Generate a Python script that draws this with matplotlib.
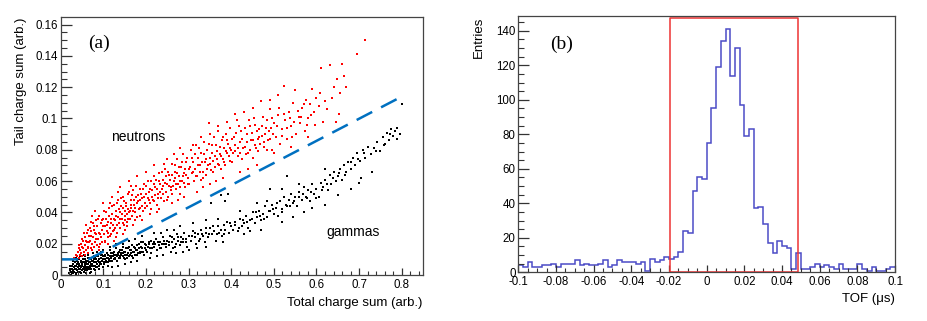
import numpy as np
import matplotlib.pyplot as plt
from matplotlib.ticker import MultipleLocator, FuncFormatter

plt.rcParams['font.family'] = ['Liberation Sans', 'DejaVu Sans']
plt.rcParams['axes.unicode_minus'] = False

# ---- (a) PSD scatter: points (tail vs total charge)
neutrons = [
    (0.032, 0.011), (0.035, 0.013), (0.038, 0.012), (0.040, 0.015), (0.042, 0.011), (0.044, 0.017),
    (0.045, 0.013), (0.047, 0.020), (0.048, 0.014), (0.050, 0.012), (0.051, 0.018), (0.053, 0.022),
    (0.054, 0.015), (0.056, 0.013), (0.057, 0.024), (0.058, 0.019), (0.060, 0.016), (0.061, 0.027),
    (0.062, 0.021), (0.064, 0.014), (0.065, 0.018), (0.066, 0.025), (0.068, 0.030), (0.069, 0.022),
    (0.070, 0.017), (0.072, 0.028), (0.073, 0.020), (0.075, 0.033), (0.076, 0.024), (0.078, 0.018),
    (0.079, 0.029), (0.080, 0.021), (0.082, 0.035), (0.083, 0.026), (0.085, 0.019), (0.086, 0.031),
    (0.088, 0.023), (0.090, 0.038), (0.091, 0.027), (0.092, 0.020), (0.094, 0.033), (0.095, 0.024),
    (0.097, 0.029), (0.098, 0.021), (0.100, 0.036),
    (0.043, 0.019), (0.046, 0.016), (0.049, 0.023), (0.052, 0.017), (0.055, 0.027), (0.059, 0.022),
    (0.063, 0.029), (0.063, 0.017), (0.067, 0.021), (0.071, 0.025), (0.071, 0.034), (0.074, 0.016),
    (0.077, 0.031), (0.081, 0.027), (0.084, 0.023), (0.087, 0.036), (0.089, 0.018), (0.093, 0.026),
    (0.096, 0.035), (0.099, 0.031), (0.060, 0.032), (0.080, 0.041), (0.090, 0.016), (0.074, 0.038),
    (0.102, 0.026), (0.104, 0.031), (0.105, 0.022), (0.107, 0.040), (0.108, 0.028), (0.110, 0.034),
    (0.112, 0.024), (0.113, 0.043), (0.115, 0.030), (0.117, 0.036), (0.118, 0.026), (0.120, 0.039),
    (0.122, 0.032), (0.123, 0.028), (0.125, 0.045), (0.127, 0.035), (0.128, 0.030), (0.130, 0.041),
    (0.132, 0.027), (0.134, 0.037), (0.135, 0.048), (0.137, 0.033), (0.139, 0.040), (0.140, 0.030),
    (0.142, 0.044), (0.144, 0.036), (0.146, 0.050), (0.148, 0.032), (0.150, 0.041), (0.152, 0.038),
    (0.154, 0.046), (0.156, 0.034), (0.158, 0.052), (0.160, 0.040), (0.162, 0.036), (0.164, 0.048),
    (0.166, 0.043), (0.168, 0.038), (0.170, 0.054), (0.172, 0.045), (0.175, 0.040), (0.177, 0.050),
    (0.180, 0.037), (0.182, 0.047), (0.185, 0.055), (0.187, 0.043), (0.190, 0.049), (0.192, 0.041),
    (0.195, 0.058), (0.197, 0.046), (0.200, 0.052),
    (0.101, 0.041), (0.103, 0.021), (0.106, 0.036), (0.109, 0.032), (0.111, 0.027), (0.114, 0.038),
    (0.116, 0.025), (0.119, 0.033), (0.121, 0.044), (0.124, 0.036), (0.126, 0.029), (0.129, 0.038),
    (0.131, 0.046), (0.133, 0.032), (0.136, 0.042), (0.138, 0.036), (0.141, 0.049), (0.143, 0.039),
    (0.145, 0.033), (0.147, 0.043), (0.149, 0.047), (0.151, 0.035), (0.153, 0.044), (0.155, 0.039),
    (0.157, 0.042), (0.159, 0.036), (0.161, 0.053), (0.163, 0.041), (0.165, 0.045), (0.167, 0.051),
    (0.169, 0.041), (0.171, 0.048), (0.174, 0.043), (0.176, 0.057), (0.178, 0.046), (0.181, 0.051),
    (0.183, 0.042), (0.186, 0.048), (0.188, 0.052), (0.191, 0.044), (0.193, 0.055), (0.196, 0.050),
    (0.198, 0.043),
    (0.100, 0.046), (0.120, 0.050), (0.140, 0.056), (0.160, 0.060), (0.180, 0.063), (0.110, 0.020),
    (0.130, 0.024), (0.150, 0.029), (0.170, 0.032), (0.190, 0.035), (0.115, 0.046), (0.135, 0.053),
    (0.155, 0.031), (0.175, 0.035), (0.145, 0.026), (0.165, 0.057), (0.185, 0.038), (0.125, 0.022),
    (0.202, 0.044), (0.205, 0.060), (0.207, 0.048), (0.210, 0.055), (0.212, 0.042), (0.215, 0.050),
    (0.218, 0.063), (0.220, 0.047), (0.222, 0.056), (0.225, 0.045), (0.228, 0.052), (0.230, 0.065),
    (0.232, 0.058), (0.235, 0.049), (0.238, 0.055), (0.240, 0.061), (0.242, 0.047), (0.245, 0.068),
    (0.248, 0.053), (0.250, 0.058), (0.252, 0.050), (0.255, 0.064), (0.258, 0.056), (0.260, 0.071),
    (0.262, 0.052), (0.265, 0.060), (0.268, 0.066), (0.270, 0.055), (0.272, 0.074), (0.275, 0.058),
    (0.278, 0.063), (0.280, 0.052), (0.282, 0.069), (0.285, 0.060), (0.288, 0.077), (0.290, 0.065),
    (0.292, 0.056), (0.295, 0.072), (0.298, 0.062), (0.300, 0.068),
    (0.201, 0.057), (0.204, 0.049), (0.206, 0.053), (0.209, 0.046), (0.211, 0.060), (0.214, 0.054),
    (0.217, 0.048), (0.219, 0.058), (0.221, 0.051), (0.224, 0.061), (0.227, 0.055), (0.229, 0.049),
    (0.231, 0.060), (0.234, 0.053), (0.237, 0.066), (0.239, 0.057), (0.241, 0.052), (0.244, 0.059),
    (0.247, 0.063), (0.249, 0.048), (0.251, 0.066), (0.254, 0.057), (0.257, 0.061), (0.259, 0.054),
    (0.261, 0.064), (0.264, 0.057), (0.267, 0.070), (0.269, 0.062), (0.271, 0.058), (0.274, 0.065),
    (0.277, 0.069), (0.279, 0.060), (0.281, 0.056), (0.284, 0.072), (0.287, 0.063), (0.289, 0.059),
    (0.291, 0.068), (0.294, 0.064), (0.297, 0.075), (0.299, 0.058),
    (0.200, 0.066), (0.220, 0.070), (0.250, 0.074), (0.280, 0.081), (0.210, 0.039), (0.230, 0.042),
    (0.260, 0.046), (0.290, 0.050), (0.243, 0.071), (0.266, 0.077), (0.226, 0.040), (0.276, 0.048),
    (0.302, 0.058), (0.305, 0.080), (0.308, 0.065), (0.310, 0.072), (0.313, 0.060), (0.316, 0.068),
    (0.318, 0.083), (0.320, 0.063), (0.323, 0.075), (0.326, 0.070), (0.328, 0.061), (0.330, 0.078),
    (0.333, 0.066), (0.336, 0.085), (0.338, 0.072), (0.340, 0.064), (0.343, 0.080), (0.346, 0.070),
    (0.348, 0.097), (0.350, 0.075), (0.353, 0.067), (0.356, 0.083), (0.358, 0.073), (0.360, 0.088),
    (0.363, 0.069), (0.366, 0.079), (0.368, 0.071), (0.370, 0.092), (0.373, 0.077), (0.376, 0.068),
    (0.378, 0.086), (0.380, 0.074), (0.383, 0.081), (0.386, 0.070), (0.388, 0.090), (0.390, 0.078),
    (0.393, 0.084), (0.396, 0.073), (0.398, 0.094), (0.400, 0.080),
    (0.303, 0.069), (0.307, 0.075), (0.311, 0.066), (0.314, 0.077), (0.317, 0.063), (0.321, 0.070),
    (0.324, 0.081), (0.327, 0.066), (0.331, 0.072), (0.334, 0.062), (0.337, 0.077), (0.341, 0.074),
    (0.344, 0.068), (0.347, 0.084), (0.351, 0.071), (0.354, 0.078), (0.357, 0.066), (0.361, 0.076),
    (0.364, 0.083), (0.367, 0.074), (0.371, 0.070), (0.374, 0.082), (0.377, 0.076), (0.381, 0.088),
    (0.384, 0.072), (0.387, 0.079), (0.391, 0.086), (0.394, 0.076), (0.397, 0.081),
    (0.310, 0.083), (0.330, 0.088), (0.350, 0.090), (0.370, 0.095), (0.390, 0.098), (0.320, 0.053),
    (0.350, 0.058), (0.380, 0.062), (0.335, 0.056), (0.365, 0.060),
    (0.403, 0.072), (0.406, 0.088), (0.410, 0.079), (0.413, 0.099), (0.416, 0.076), (0.420, 0.085),
    (0.423, 0.092), (0.426, 0.074), (0.430, 0.104), (0.433, 0.082), (0.436, 0.090), (0.440, 0.078),
    (0.443, 0.095), (0.446, 0.086), (0.450, 0.075), (0.453, 0.100), (0.456, 0.083), (0.460, 0.092),
    (0.463, 0.079), (0.466, 0.088), (0.470, 0.111), (0.473, 0.095), (0.476, 0.082), (0.480, 0.090),
    (0.483, 0.099), (0.486, 0.086), (0.490, 0.106), (0.493, 0.094), (0.496, 0.080), (0.500, 0.097),
    (0.401, 0.087), (0.405, 0.078), (0.408, 0.083), (0.412, 0.091), (0.415, 0.081), (0.418, 0.095),
    (0.421, 0.078), (0.425, 0.087), (0.428, 0.081), (0.432, 0.094), (0.435, 0.077), (0.438, 0.085),
    (0.442, 0.099), (0.445, 0.080), (0.448, 0.091), (0.452, 0.086), (0.455, 0.096), (0.458, 0.081),
    (0.462, 0.087), (0.465, 0.093), (0.468, 0.084), (0.472, 0.089), (0.475, 0.101), (0.478, 0.085),
    (0.482, 0.094), (0.485, 0.080), (0.488, 0.092), (0.492, 0.087), (0.495, 0.100), (0.498, 0.090),
    (0.410, 0.103), (0.450, 0.107), (0.490, 0.112), (0.420, 0.066), (0.460, 0.070), (0.440, 0.068),
    (0.505, 0.088), (0.510, 0.102), (0.515, 0.084), (0.520, 0.093), (0.523, 0.121), (0.527, 0.099),
    (0.530, 0.087), (0.535, 0.104), (0.540, 0.095), (0.545, 0.110), (0.550, 0.118), (0.553, 0.090),
    (0.558, 0.101), (0.562, 0.097), (0.567, 0.107), (0.572, 0.092), (0.575, 0.112), (0.580, 0.100),
    (0.585, 0.109), (0.590, 0.119), (0.595, 0.104), (0.600, 0.113),
    (0.508, 0.095), (0.512, 0.107), (0.518, 0.089), (0.525, 0.103), (0.532, 0.094), (0.538, 0.100),
    (0.543, 0.088), (0.548, 0.098), (0.556, 0.105), (0.564, 0.101), (0.570, 0.109), (0.578, 0.096),
    (0.588, 0.102), (0.597, 0.096), (0.510, 0.115), (0.500, 0.078), (0.540, 0.082), (0.580, 0.088),
    (0.605, 0.108), (0.610, 0.132), (0.615, 0.098), (0.620, 0.111), (0.632, 0.134), (0.640, 0.120),
    (0.648, 0.125), (0.655, 0.116), (0.660, 0.135), (0.665, 0.127), (0.670, 0.120), (0.695, 0.141),
    (0.715, 0.150), (0.608, 0.116), (0.625, 0.106), (0.636, 0.113), (0.645, 0.098), (0.652, 0.103),
]

gammas = [
    (0.020, 0.001), (0.022, 0.003), (0.024, 0.000), (0.025, 0.002), (0.027, 0.004), (0.028, 0.001),
    (0.030, 0.003), (0.031, 0.005), (0.032, 0.002), (0.034, 0.006), (0.035, 0.001), (0.036, 0.004),
    (0.038, 0.007), (0.039, 0.003), (0.040, 0.005), (0.041, 0.008), (0.043, 0.002), (0.044, 0.006),
    (0.045, 0.004), (0.047, 0.009), (0.048, 0.005), (0.050, 0.003), (0.051, 0.007), (0.052, 0.010),
    (0.054, 0.005), (0.055, 0.008), (0.057, 0.004), (0.058, 0.006), (0.060, 0.009), (0.061, 0.003),
    (0.062, 0.007), (0.064, 0.011), (0.065, 0.005), (0.067, 0.008), (0.068, 0.006), (0.070, 0.010),
    (0.072, 0.004), (0.073, 0.007), (0.075, 0.009), (0.076, 0.006), (0.078, 0.012), (0.080, 0.008),
    (0.082, 0.005), (0.083, 0.010), (0.085, 0.007), (0.087, 0.009), (0.088, 0.012), (0.090, 0.006),
    (0.092, 0.008), (0.094, 0.011), (0.095, 0.007), (0.097, 0.013), (0.098, 0.009), (0.100, 0.010),
    (0.021, 0.004), (0.023, 0.006), (0.026, 0.001), (0.026, 0.006), (0.029, 0.007), (0.029, 0.002),
    (0.033, 0.004), (0.033, 0.008), (0.036, 0.000), (0.037, 0.006), (0.039, 0.009), (0.040, 0.002),
    (0.042, 0.004), (0.042, 0.007), (0.044, 0.010), (0.046, 0.002), (0.046, 0.006), (0.048, 0.008),
    (0.049, 0.003), (0.050, 0.006), (0.052, 0.004), (0.053, 0.008), (0.054, 0.002), (0.056, 0.007),
    (0.056, 0.010), (0.058, 0.003), (0.059, 0.008), (0.060, 0.005), (0.062, 0.004), (0.063, 0.009),
    (0.065, 0.007), (0.066, 0.011), (0.066, 0.004), (0.069, 0.008), (0.069, 0.005), (0.071, 0.007),
    (0.072, 0.011), (0.074, 0.006), (0.074, 0.009), (0.077, 0.008), (0.077, 0.004), (0.079, 0.010),
    (0.081, 0.006), (0.081, 0.011), (0.084, 0.008), (0.086, 0.005), (0.086, 0.012), (0.089, 0.008),
    (0.091, 0.010), (0.093, 0.007), (0.094, 0.013), (0.096, 0.009), (0.099, 0.012),
    (0.030, 0.009), (0.035, 0.011), (0.045, 0.012), (0.055, 0.013), (0.060, 0.001), (0.070, 0.002),
    (0.080, 0.003), (0.090, 0.004), (0.100, 0.005), (0.065, 0.013), (0.075, 0.014), (0.085, 0.015),
    (0.095, 0.015), (0.110, 0.006), (0.038, 0.010), (0.048, 0.001), (0.058, 0.012), (0.068, 0.001),
    (0.102, 0.007), (0.104, 0.012), (0.106, 0.009), (0.108, 0.014), (0.110, 0.008), (0.112, 0.011),
    (0.114, 0.010), (0.116, 0.016), (0.118, 0.009), (0.120, 0.012), (0.122, 0.014), (0.124, 0.010),
    (0.126, 0.013), (0.128, 0.011), (0.130, 0.017), (0.133, 0.009), (0.135, 0.013), (0.137, 0.015),
    (0.140, 0.011), (0.142, 0.014), (0.145, 0.012), (0.147, 0.018), (0.150, 0.010), (0.152, 0.015),
    (0.155, 0.013), (0.157, 0.017), (0.160, 0.012), (0.162, 0.016), (0.165, 0.014), (0.168, 0.019),
    (0.170, 0.011), (0.173, 0.015), (0.175, 0.017), (0.178, 0.013), (0.180, 0.016), (0.183, 0.020),
    (0.185, 0.014), (0.188, 0.018), (0.190, 0.015), (0.193, 0.021), (0.195, 0.013), (0.198, 0.017),
    (0.200, 0.019),
    (0.101, 0.008), (0.103, 0.010), (0.105, 0.013), (0.107, 0.008), (0.109, 0.011), (0.111, 0.013),
    (0.113, 0.009), (0.115, 0.012), (0.117, 0.011), (0.119, 0.014), (0.121, 0.009), (0.123, 0.012),
    (0.125, 0.015), (0.127, 0.010), (0.129, 0.013), (0.131, 0.012), (0.134, 0.014), (0.136, 0.011),
    (0.138, 0.016), (0.139, 0.012), (0.141, 0.013), (0.143, 0.016), (0.146, 0.014), (0.148, 0.011),
    (0.149, 0.015), (0.151, 0.013), (0.153, 0.017), (0.156, 0.011), (0.158, 0.014), (0.161, 0.018),
    (0.163, 0.013), (0.166, 0.016), (0.167, 0.012), (0.169, 0.015), (0.172, 0.018), (0.174, 0.013),
    (0.177, 0.016), (0.179, 0.019), (0.181, 0.014), (0.184, 0.017), (0.187, 0.015), (0.189, 0.021),
    (0.191, 0.017), (0.194, 0.015), (0.197, 0.020), (0.199, 0.016),
    (0.100, 0.016), (0.130, 0.020), (0.160, 0.022), (0.190, 0.025), (0.120, 0.005), (0.150, 0.007),
    (0.180, 0.009), (0.115, 0.018), (0.145, 0.020), (0.175, 0.023), (0.135, 0.006), (0.165, 0.008),
    (0.203, 0.015), (0.206, 0.021), (0.210, 0.017), (0.213, 0.014), (0.216, 0.020), (0.220, 0.018),
    (0.223, 0.023), (0.226, 0.016), (0.230, 0.019), (0.233, 0.021), (0.236, 0.017), (0.240, 0.024),
    (0.243, 0.020), (0.246, 0.018), (0.250, 0.022), (0.253, 0.019), (0.256, 0.025), (0.260, 0.021),
    (0.263, 0.017), (0.266, 0.023), (0.270, 0.020), (0.273, 0.026), (0.276, 0.022), (0.280, 0.019),
    (0.283, 0.024), (0.286, 0.021), (0.290, 0.027), (0.293, 0.023), (0.296, 0.018), (0.300, 0.025),
    (0.205, 0.018), (0.208, 0.020), (0.212, 0.022), (0.215, 0.017), (0.218, 0.021), (0.222, 0.020),
    (0.228, 0.021), (0.232, 0.017), (0.238, 0.020), (0.242, 0.022), (0.248, 0.020), (0.255, 0.021),
    (0.262, 0.024), (0.268, 0.018), (0.275, 0.024), (0.282, 0.021), (0.288, 0.023), (0.295, 0.021),
    (0.220, 0.027), (0.250, 0.029), (0.280, 0.031), (0.210, 0.011), (0.240, 0.013), (0.270, 0.014),
    (0.300, 0.016), (0.235, 0.027), (0.265, 0.029), (0.225, 0.012), (0.258, 0.015), (0.288, 0.015),
    (0.305, 0.022), (0.310, 0.028), (0.314, 0.024), (0.318, 0.020), (0.322, 0.026), (0.326, 0.023),
    (0.330, 0.029), (0.334, 0.025), (0.338, 0.021), (0.342, 0.027), (0.346, 0.024), (0.350, 0.030),
    (0.352, 0.046), (0.355, 0.026), (0.360, 0.028), (0.364, 0.022), (0.368, 0.031), (0.372, 0.027),
    (0.375, 0.051), (0.378, 0.025), (0.382, 0.032), (0.385, 0.047), (0.386, 0.029), (0.390, 0.034),
    (0.393, 0.052), (0.395, 0.027), (0.400, 0.031),
    (0.308, 0.025), (0.316, 0.027), (0.324, 0.022), (0.332, 0.026), (0.340, 0.030), (0.348, 0.026),
    (0.358, 0.031), (0.366, 0.026), (0.376, 0.029), (0.384, 0.026), (0.398, 0.033),
    (0.310, 0.033), (0.340, 0.035), (0.340, 0.018), (0.380, 0.021), (0.320, 0.017), (0.370, 0.036),
    (0.405, 0.029), (0.410, 0.034), (0.415, 0.028), (0.420, 0.036), (0.425, 0.031), (0.430, 0.033),
    (0.435, 0.038), (0.440, 0.030), (0.445, 0.035), (0.450, 0.040), (0.455, 0.033), (0.460, 0.037),
    (0.465, 0.041), (0.470, 0.035), (0.475, 0.039), (0.480, 0.044), (0.485, 0.037), (0.490, 0.055),
    (0.492, 0.041), (0.495, 0.045), (0.500, 0.039),
    (0.408, 0.032), (0.418, 0.030), (0.428, 0.035), (0.438, 0.034), (0.448, 0.036), (0.458, 0.040),
    (0.468, 0.038), (0.478, 0.036), (0.488, 0.041), (0.498, 0.042),
    (0.420, 0.041), (0.460, 0.046), (0.430, 0.026), (0.470, 0.029), (0.445, 0.028), (0.485, 0.047),
    (0.505, 0.043), (0.510, 0.038), (0.515, 0.047), (0.520, 0.042), (0.525, 0.050), (0.530, 0.063),
    (0.532, 0.044), (0.535, 0.048), (0.540, 0.052), (0.545, 0.046), (0.550, 0.050), (0.555, 0.044),
    (0.560, 0.053), (0.565, 0.048), (0.570, 0.056), (0.575, 0.050), (0.580, 0.054), (0.585, 0.047),
    (0.590, 0.058), (0.595, 0.052), (0.600, 0.055),
    (0.508, 0.046), (0.518, 0.040), (0.528, 0.045), (0.538, 0.044), (0.548, 0.047), (0.558, 0.050),
    (0.568, 0.052), (0.578, 0.049), (0.588, 0.053), (0.598, 0.049),
    (0.520, 0.055), (0.560, 0.058), (0.520, 0.034), (0.570, 0.040), (0.545, 0.037), (0.590, 0.043),
    (0.605, 0.050), (0.610, 0.059), (0.615, 0.056), (0.620, 0.061), (0.628, 0.054), (0.632, 0.064),
    (0.635, 0.058), (0.640, 0.066), (0.645, 0.060), (0.650, 0.063), (0.655, 0.068), (0.660, 0.061),
    (0.665, 0.070), (0.670, 0.066), (0.675, 0.072), (0.680, 0.068), (0.685, 0.075), (0.690, 0.070),
    (0.695, 0.078), (0.700, 0.059), (0.702, 0.073), (0.708, 0.080), (0.715, 0.075), (0.720, 0.082),
    (0.728, 0.077), (0.735, 0.081), (0.742, 0.085), (0.750, 0.079), (0.755, 0.088), (0.760, 0.084),
    (0.765, 0.091), (0.770, 0.086), (0.775, 0.093), (0.780, 0.089), (0.785, 0.092), (0.790, 0.087),
    (0.795, 0.090), (0.800, 0.109),
    (0.612, 0.054), (0.625, 0.058), (0.638, 0.062), (0.652, 0.065), (0.668, 0.064), (0.682, 0.072),
    (0.698, 0.074), (0.712, 0.078), (0.740, 0.079), (0.758, 0.083), (0.772, 0.090), (0.788, 0.094),
    (0.620, 0.068), (0.620, 0.045), (0.680, 0.055), (0.730, 0.066), (0.650, 0.051), (0.705, 0.062),
]

# discrimination cut (dashed blue line)
cut_x = [0.0, 0.065, 0.80]
cut_y = [0.010, 0.010, 0.114]

# ---- (b) TOF histogram, 80 bins from -0.1 to 0.1 us
tof_edges = np.linspace(-0.1, 0.1, 81)
tof_counts = [
    4, 3, 6, 3, 3, 4, 4, 5, 3, 5, 5, 5, 7, 4, 5, 4, 4, 5, 7, 3,
    4, 7, 6, 6, 6, 5, 6, 1, 8, 6, 7, 9, 8, 9, 12, 24, 23, 47, 55, 54,
    75, 95, 119, 134, 141, 114, 130, 97, 79, 83, 37, 38, 28, 17, 11, 18, 15, 14, 2, 11,
    2, 2, 3, 5, 3, 4, 3, 2, 5, 2, 2, 2, 5, 2, 1, 3, 1, 1, 2, 3,
]
tof_window = (-0.0193, 0.0487)
tof_window_top = 147.7

fig = plt.figure(figsize=(9.28, 3.21), dpi=100)
ax1 = fig.add_axes([0.0654, 0.1433, 0.390, 0.803])
ax2 = fig.add_axes([0.5585, 0.1517, 0.406, 0.798])

fmt = FuncFormatter(lambda v, p: '%g' % (round(v, 4) + 0.0))
frame_col = '#444444'


def root_style(ax):
    for s in ax.spines.values():
        s.set_color(frame_col)
        s.set_linewidth(0.9)
    ax.tick_params(which='both', direction='in', top=False, right=False,
                   colors='#333333', labelsize=8.3, labelcolor='black')
    ax.tick_params(axis='y', which='major', length=8, width=0.9, pad=2)
    ax.tick_params(axis='y', which='minor', length=4.3, width=0.8)
    ax.tick_params(axis='x', which='major', length=5.4, width=0.9, pad=3)
    ax.tick_params(axis='x', which='minor', length=2.9, width=0.8)
    ax.xaxis.set_major_formatter(fmt)
    ax.yaxis.set_major_formatter(fmt)


# left panel
nx, ny = zip(*neutrons)
gx, gy = zip(*gammas)
ax1.scatter(gx, gy, s=4.5, marker='s', color='black', linewidths=0)
ax1.scatter(nx, ny, s=4.5, marker='s', color='red', linewidths=0)
ax1.plot(cut_x, cut_y, color='#0070c0', lw=1.8, dashes=(7, 4))
ax1.set_xlim(0, 0.849)
ax1.set_ylim(0, 0.1647)
ax1.xaxis.set_major_locator(MultipleLocator(0.1))
ax1.xaxis.set_minor_locator(MultipleLocator(0.02))
ax1.yaxis.set_major_locator(MultipleLocator(0.02))
ax1.yaxis.set_minor_locator(MultipleLocator(0.005))
root_style(ax1)
ax1.set_xlabel('Total charge sum (arb.)', fontsize=9.5, loc='right', labelpad=4)
ax1.set_ylabel('Tail charge sum (arb.)', fontsize=9.5, loc='top', labelpad=6)
ax1.text(0.064, 0.148, '(a)', fontsize=14, family='Liberation Serif', va='center')
ax1.text(0.119, 0.0883, 'neutrons', fontsize=10, va='center')
ax1.text(0.623, 0.0275, 'gammas', fontsize=10, va='center')

# right panel
ax2.stairs(tof_counts, tof_edges, color='#4b4bc6', lw=1.1, baseline=None)
ax2.plot([tof_window[0], tof_window[0], tof_window[1], tof_window[1], tof_window[0]],
         [0, tof_window_top, tof_window_top, 0, 0], color='#ee3333', lw=1.1)
ax2.set_xlim(-0.1, 0.1)
ax2.set_ylim(0, 148.5)
ax2.xaxis.set_major_locator(MultipleLocator(0.02))
ax2.xaxis.set_minor_locator(MultipleLocator(0.005))
ax2.yaxis.set_major_locator(MultipleLocator(20))
ax2.yaxis.set_minor_locator(MultipleLocator(5))
root_style(ax2)
ax2.set_xlabel('TOF (μs)', fontsize=9.5, loc='right', labelpad=3)
ax2.set_ylabel('Entries', fontsize=9.5, loc='top', labelpad=8)
ax2.text(-0.0832, 132, '(b)', fontsize=14, family='Liberation Serif', va='center')

fig.savefig('out.png', dpi=100)
